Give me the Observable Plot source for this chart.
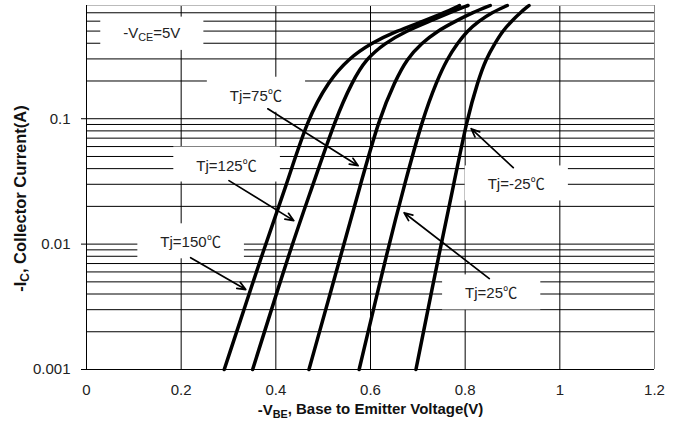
<!DOCTYPE html>
<html><head><meta charset="utf-8">
<script src="https://cdn.jsdelivr.net/npm/d3@7"></script>
<script src="https://cdn.jsdelivr.net/npm/@observablehq/plot@0.6"></script>
<style>html,body{margin:0;padding:0;background:#fff}svg{display:block}</style>
</head><body><div id="chart"></div>
<script>
// Collector current levels (A) at which each curve was read
const icLevels = [0.001, 0.01, 0.03, 0.1, 0.2, 0.3, 0.4, 0.5, 0.6, 0.7, 0.8];
// Junction temperature series
const series = ["Tj=150℃", "Tj=125℃", "Tj=75℃", "Tj=25℃", "Tj=-25℃"];
// -VBE (V) for each series at the levels above
const vbe150 = [0.291, 0.378, 0.423, 0.467, 0.512, 0.553, 0.601, 0.655, 0.712, 0.756, 0.788];
const vbe125 = [0.351, 0.434, 0.479, 0.526, 0.562, 0.591, 0.630, 0.675, 0.725, 0.767, 0.806];
const vbe75  = [0.470, 0.544, 0.579, 0.618, 0.652, 0.677, 0.708, 0.741, 0.780, 0.815, 0.853];
const vbe25  = [0.576, 0.639, 0.672, 0.710, 0.740, 0.762, 0.784, 0.804, 0.829, 0.855, 0.889];
const vbeM25 = [0.696, 0.749, 0.776, 0.804, 0.827, 0.844, 0.863, 0.879, 0.898, 0.916, 0.935];
const vbeSeries = [vbe150, vbe125, vbe75, vbe25, vbeM25];

// Axes
const xDomain = [0, 1.2];
const yDomain = [0.001, 0.8];
const xTicks = [0, 0.2, 0.4, 0.6, 0.8, 1, 1.2];
const xTickLabels = ["0", "0.2", "0.4", "0.6", "0.8", "1", "1.2"];
const yTicks = [0.001, 0.01, 0.1];
const yTickLabels = ["0.001", "0.01", "0.1"];
const xTitle = "-VBE, Base to Emitter Voltage(V)";
const yTitle = "-IC, Collector Current(A)";

// Annotations (label anchor in data units)
const noteText = ["-VCE=5V", "Tj=75℃", "Tj=125℃", "Tj=150℃", "Tj=-25℃", "Tj=25℃"];
const noteX    = [0.138, 0.358, 0.296, 0.220, 0.908, 0.855];
const noteY    = [0.484, 0.152, 0.0422, 0.0103, 0.0298, 0.00403];
// Arrows: from label to curve
const arrowX1 = [0.383, 0.301, 0.220, 0.9016, 0.851];
const arrowY1 = [0.120, 0.0321, 0.0078, 0.0407, 0.00531];
const arrowX2 = [0.574, 0.438, 0.3365, 0.8127, 0.671];
const arrowY2 = [0.0422, 0.01539, 0.00434, 0.0833, 0.0178];

const curveRows = series.flatMap((s, i) => icLevels.map((ic, j) => ({tj: s, ic, vbe: vbeSeries[i][j]})));
const noteRows = noteText.map((t, i) => ({t, x: noteX[i], y: noteY[i]}));
const arrowRows = arrowX1.map((d, i) => ({x1: d, y1: arrowY1[i], x2: arrowX2[i], y2: arrowY2[i]}));
const minorY = d3.scaleLog().domain(yDomain).ticks();
const innerX = xTicks.slice(1, -1);

const chart = Plot.plot({
  width: 680, height: 425,
  marginLeft: 86, marginRight: 26, marginTop: 5, marginBottom: 56,
  style: {fontFamily: "'Liberation Sans', Arial, sans-serif", fontSize: "15px", color: "#222", background: "#fff"},
  x: {domain: xDomain},
  y: {type: "log", domain: yDomain},
  marks: [
    Plot.ruleY(minorY, {stroke: "#000", strokeWidth: 1}),
    Plot.ruleX(innerX, {stroke: "#000", strokeWidth: 1}),
    Plot.ruleY([yDomain[1]], {stroke: "#bbb", strokeWidth: 1}),
    Plot.ruleX([xDomain[1]], {stroke: "#888", strokeWidth: 1}),
    Plot.ruleX([xDomain[0]], {stroke: "#000", strokeWidth: 1}),
    Plot.ruleY([yDomain[0]], {stroke: "#000", strokeWidth: 1}),
    Plot.axisX({ticks: xTicks, tickSize: 0, tickPadding: 15, tickFormat: (d) => xTickLabels[xTicks.indexOf(d)], label: null, fill: "#222"}),
    Plot.axisY({ticks: yTicks, tickSize: 5, tickPadding: 11, tickFormat: (d) => yTickLabels[yTicks.indexOf(d)], label: null, fill: "#222", stroke: "#000"}),
    Plot.line(curveRows, {x: "vbe", y: "ic", z: "tj", curve: "basis", stroke: "#000", strokeWidth: 3.5}),
    Plot.arrow(arrowRows, {x1: "x1", y1: "y1", x2: "x2", y2: "y2", stroke: "#000", strokeWidth: 1.7, headLength: 8, headAngle: 45}),
    Plot.text(noteRows, {x: "x", y: "y", text: "t", fill: "#222", fontSize: 15}),
    Plot.text([xTitle], {frameAnchor: "bottom", textAnchor: "middle", dy: 45, fontWeight: "bold", fontSize: 15, fill: "#111"}),
    Plot.text([yTitle], {frameAnchor: "left", textAnchor: "middle", dx: -66, dy: 11, rotate: -90, fontWeight: "bold", fontSize: 16.5, fill: "#111"})
  ]
});
document.getElementById("chart").appendChild(chart);

const svg = d3.select(chart);
// Subscripts
function subscript(full, head, sub, tail) {
  svg.selectAll("text").filter(function () { return this.textContent === full; }).each(function () {
    const t = d3.select(this);
    t.text(null);
    t.append("tspan").text(head);
    t.append("tspan").attr("font-size", "0.72em").attr("dy", "0.3em").text(sub);
    t.append("tspan").attr("dy", "-0.22em").text(tail);
  });
}
subscript("-VCE=5V", "-V", "CE", "=5V");
subscript(xTitle, "-V", "BE", ", Base to Emitter Voltage(V)");
subscript(yTitle, "-I", "C", ", Collector Current(A)");
// Wide CJK-style degree Celsius sign
svg.selectAll("text").filter(function () { return noteText.includes(this.textContent) && this.textContent.endsWith("℃"); }).each(function () {
  const t = d3.select(this);
  const s = this.textContent;
  t.text(null);
  t.append("tspan").text(s.slice(0, -1));
  t.append("tspan").attr("font-family", "'Noto Sans CJK SC'").attr("font-size", "0.95em").text("℃");
});

// White boxes behind annotation labels (over grid, under curves)
const lineGroup = chart.querySelector('g[aria-label="line"]');
const boxG = document.createElementNS("http://www.w3.org/2000/svg", "g");
lineGroup.parentNode.insertBefore(boxG, lineGroup);
svg.selectAll("text").filter(function () { return noteText.includes(this.textContent); }).each(function () {
  const b = this.getBBox();
  const m = this.getCTM();
  const r = document.createElementNS("http://www.w3.org/2000/svg", "rect");
  const px = 23, py = 7;
  r.setAttribute("x", b.x + m.e - px);
  r.setAttribute("y", b.y + m.f - py);
  r.setAttribute("width", b.width + 2 * px);
  r.setAttribute("height", b.height + 2 * py);
  r.setAttribute("fill", "#fff");
  boxG.appendChild(r);
});
</script>
</body></html>
